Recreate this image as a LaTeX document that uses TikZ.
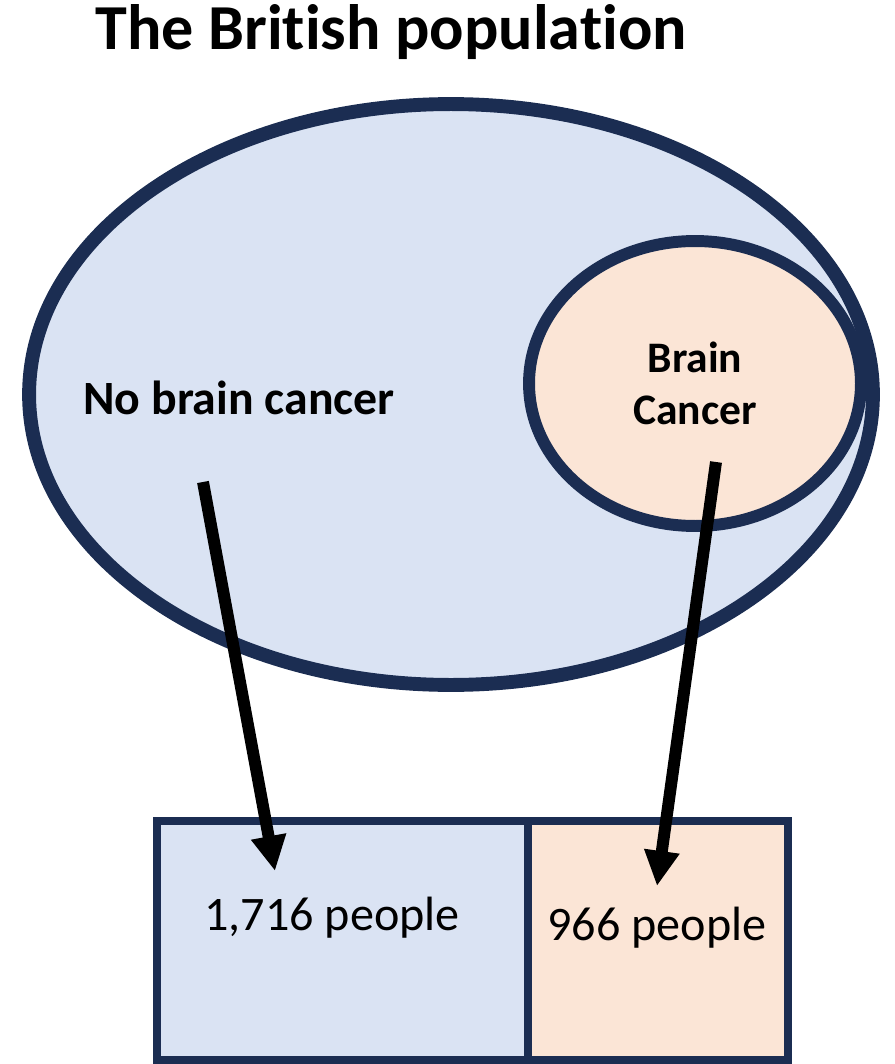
\documentclass[tikz,border=0pt]{standalone}
\usepackage{fontspec}
\setmainfont{Carlito}[Ligatures=NoCommon]
\usepackage{tikz}
\usetikzlibrary{shapes.geometric,arrows.meta,positioning}
\definecolor{popblue}{HTML}{DAE3F3}
\definecolor{cancerpeach}{HTML}{FBE5D6}
\definecolor{edgenavy}{HTML}{1B2D52}

\begin{document}
\begin{tikzpicture}[
  x=0.02cm, y=-0.02cm,
  every node/.style={inner sep=0pt},
  popset/.style={ellipse, draw=edgenavy, line width=7.9pt, fill=popblue},
  cancerset/.style={ellipse, draw=edgenavy, line width=6.8pt, fill=cancerpeach, align=center, font=\fontsize{24.8}{29.5}\selectfont\bfseries},
  cell/.style={rectangle, draw=edgenavy, line width=4.5pt, minimum width=7.42cm, minimum height=4.78cm},
  count/.style={font=\fontsize{27.4}{32}\selectfont},
  arr/.style={-{Triangle[length=20pt, width=19pt]}, line width=6.8pt, black}
]
\useasboundingbox (0,0) rectangle (894,1064);

% Title
\node[font=\fontsize{36.5}{42}\selectfont\bfseries] (title) at (391,32) {The British populat\kern0pt ion};

% Population sets
\node[popset, minimum width=16.88cm, minimum height=11.62cm] (pop) at (451,394.5) {};
\node[cancerset, minimum width=6.64cm, minimum height=5.70cm] (cancer) at (695,383.5) {Brain\\Cancer};
\node[font=\fontsize{27.2}{32}\selectfont\bfseries] (nocancer) at (239,398) {No brain cancer};

% Counts table
\node[cell, fill=popblue] (left) at (342.5,940.5) {};
\node[cell, fill=cancerpeach, minimum width=5.2cm] (right) at (658,940.5) {};
\node[count] (leftcount) at (332,918) {1,716 people};
\node[count] (rightcount) at (657,928) {966 people};

% Arrows
\coordinate (nostart) at (203,482);
\coordinate (noend) at (275,871);
\coordinate (yesstart) at (716,462);
\coordinate (yesend) at (657,886);
\draw[arr] (nostart) -- (noend);
\draw[arr] (yesstart) -- (yesend);

\end{tikzpicture}
\end{document}
